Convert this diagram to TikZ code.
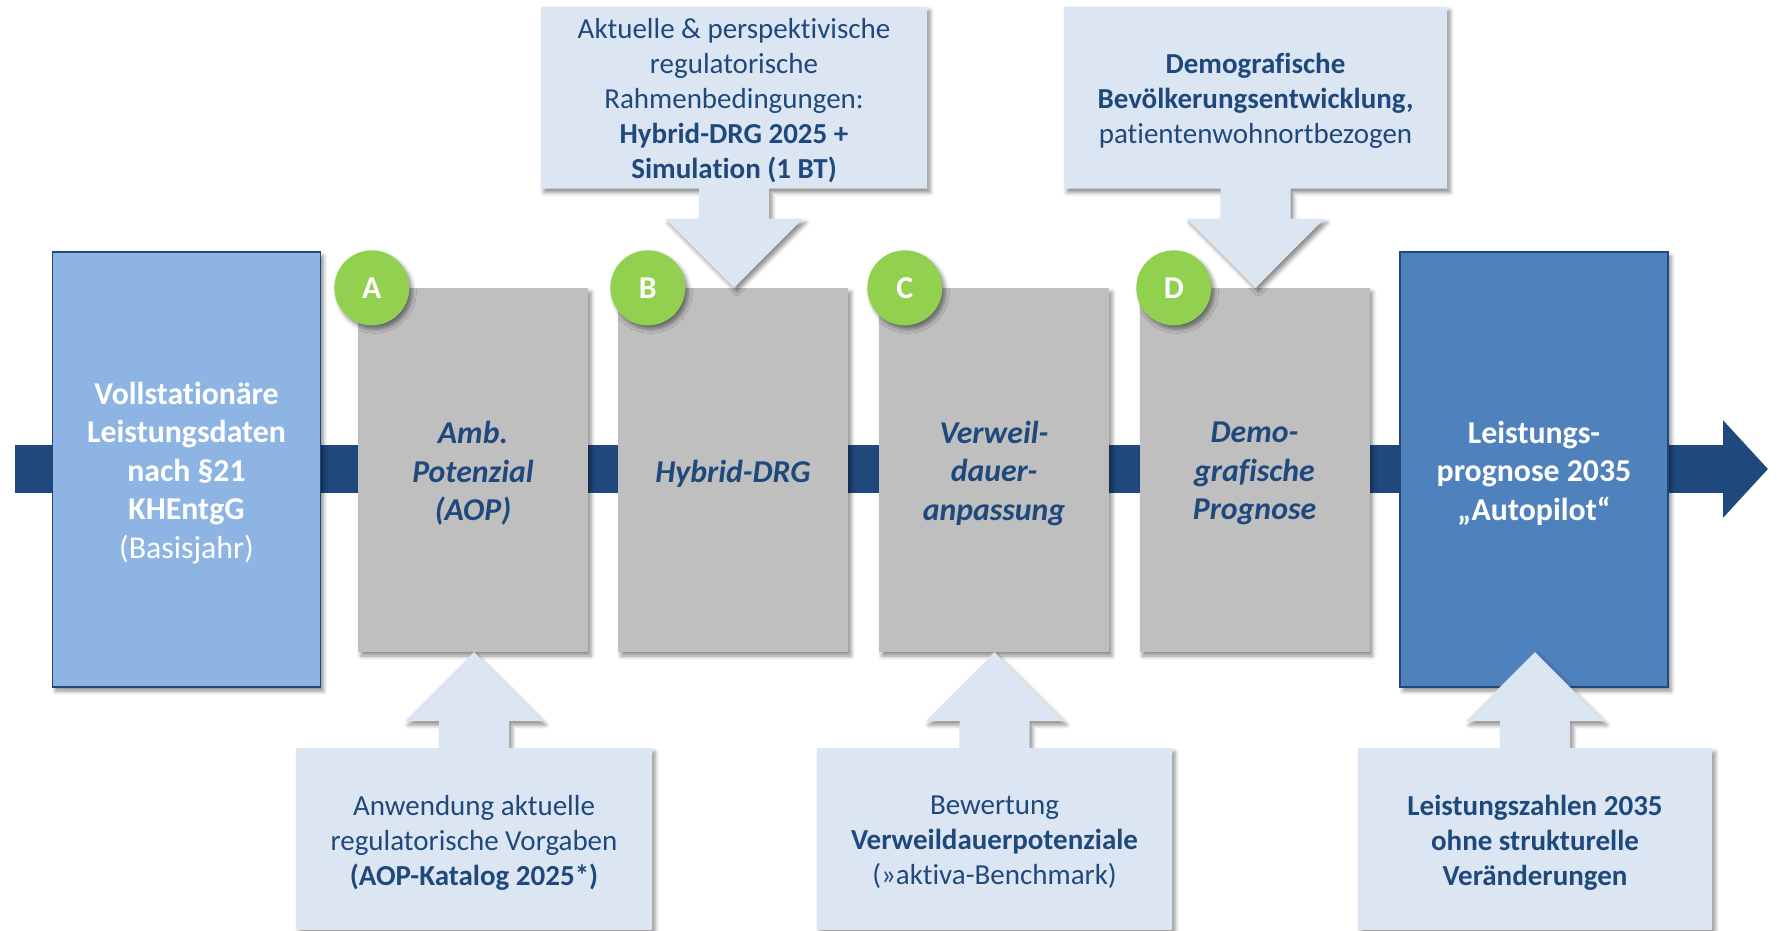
\documentclass[tikz,border=0pt]{standalone}
\usepackage{fontspec}
\setmainfont[Ligatures=CommonOff]{Carlito}
\usetikzlibrary{calc,arrows.meta,shadows.blur}

\definecolor{navy}{HTML}{1F497D}
\definecolor{srcblue}{HTML}{8EB4E3}
\definecolor{resblue}{HTML}{4F81BD}
\definecolor{stepgrey}{HTML}{BFBFBF}
\definecolor{markgreen}{HTML}{92D050}
\definecolor{notefill}{HTML}{DCE6F2}

\tikzset{
  soft shadow/.style={blur shadow={shadow xshift=3pt, shadow yshift=-4pt,
      shadow blur radius=4pt, shadow opacity=45}},
  bigfont/.style={font=\fontsize{31.8}{38.5}\selectfont\bfseries},
  flow/.style={draw=navy, line width=48pt,
      -{Triangle[length=45pt,width=95pt]}},
  endbox/.style={rectangle, draw=navy, line width=1.8pt, inner sep=0pt,
      minimum width=268pt, minimum height=435pt, soft shadow},
  stepbox/.style={rectangle, fill=stepgrey, inner sep=0pt,
      minimum width=230pt, minimum height=364pt, soft shadow},
  endtext/.style={align=center, text=white, inner sep=0pt, bigfont},
  steptext/.style={align=center, text=navy, inner sep=0pt,
      font=\fontsize{31.8}{38.5}\selectfont\bfseries\itshape},
  stepmark/.style={circle, fill=markgreen, minimum size=75pt, inner sep=0pt,
      text=white, bigfont, soft shadow},
  notetext/.style={align=center, text=navy, inner sep=0pt,
      font=\fontsize{29}{35}\selectfont},
  notearrow/.style={fill=notefill, soft shadow},
}

\begin{document}
\begin{tikzpicture}[x=1pt,y=-1pt]
  \useasboundingbox (0,0) rectangle (1777,930);
  \clip (0,0) rectangle (1777,930);

  % main process flow behind the boxes
  \coordinate (flowstart) at (15,469);
  \coordinate (flowend) at (1768,469);
  \draw[flow] (flowstart) -- (flowend);

  % start and end of the process
  \node[endbox, fill=srcblue] (src) at (186.5,469.5) {};
  \node[endbox, fill=resblue] (res) at (1534,469.5) {};
  \node[endtext] (srcT) at ($(src)+(0,3.5)$)
    {Vollstationäre\\Leistungsdaten\\nach §21\\KHEntgG\\\mdseries(Basisjahr)};
  \node[endtext] (resT) at ($(res)+(0,3.5)$)
    {Leistungs-\\prognose 2035\\„Autopilot“};

  % the four processing steps
  \node[stepbox] (stepA) at (473,470) {};
  \node[stepbox] (stepB) at (733,470) {};
  \node[stepbox] (stepC) at (994,470) {};
  \node[stepbox] (stepD) at (1254.5,470) {};
  \node[steptext] (stepAT) at ($(stepA)+(0,3.5)$) {Amb.\\Potenzial\\(AOP)};
  \node[steptext] (stepBT) at ($(stepB)+(0,3.5)$) {Hybrid-DRG};
  \node[steptext] (stepCT) at ($(stepC)+(0,3.5)$) {Verweil-\\dauer-\\anpassung};
  \node[steptext] (stepDT) at ($(stepD)+(0,3.5)$) {Demo-\\grafische\\Prognose};

  \node[stepmark] (markA) at ($(stepA.north west)+(14,0)$) {A};
  \node[stepmark] (markB) at ($(stepB.north west)+(30,0)$) {B};
  \node[stepmark] (markC) at ($(stepC.north west)+(26,0)$) {C};
  \node[stepmark] (markD) at ($(stepD.north west)+(34.5,0)$) {D};

  % input notes: centre, half width, half height 91
  \coordinate (noteB) at (734,97.5);
  \coordinate (noteD) at (1255.5,97.5);
  \coordinate (noteA) at (474,839);
  \coordinate (noteC) at (994.5,839);
  \coordinate (noteR) at (1535,839);

  % downward callouts: box with arrow onto a step
  \foreach \n/\s/\w in {noteB/stepB/193, noteD/stepD/191.5}{
    \path[notearrow]
      ($(\n)+(-\w,-91)$) -- ($(\n)+(\w,-91)$) -- ($(\n)+(\w,91)$)
      -- ($(\n)+(35,91)$) -- ($(\n)+(35,121)$)
      -- ($(\n)+(69,121)$) -- (\n |- \s.north)
      -- ($(\n)+(-69,121)$) -- ($(\n)+(-35,121)$)
      -- ($(\n)+(-35,91)$) -- ($(\n)+(-\w,91)$) -- cycle;
  }
  % upward callouts: box with arrow under a step
  \foreach \n/\s/\w in {noteA/stepA/178, noteC/stepC/177.5, noteR/stepD/177}{
    \path[notearrow]
      ($(\n)+(-\w,91)$) -- ($(\n)+(-\w,-91)$)
      -- ($(\n)+(-35,-91)$) -- ($(\n)+(-35,-118)$)
      -- ($(\n)+(-69,-118)$) -- (\n |- \s.south)
      -- ($(\n)+(69,-118)$) -- ($(\n)+(35,-118)$)
      -- ($(\n)+(35,-91)$) -- ($(\n)+(\w,-91)$) -- ($(\n)+(\w,91)$) -- cycle;
  }

  % note texts
  \node[notetext] (noteBT) at ($(noteB)+(0,3.5)$)
    {Aktuelle \& perspektivische\\regulatorische\\Rahmenbedingungen:\\
     \textbf{Hybrid-DRG 2025 +}\\\textbf{Simulation (1 BT)}};
  \node[notetext] (noteDT) at ($(noteD)+(0,3.5)$)
    {\textbf{Demografische}\\\textbf{Bevölkerungsentwicklung,}\\patientenwohnortbezogen};
  \node[notetext] (noteAT) at ($(noteA)+(0,3.5)$)
    {Anwendung aktuelle\\regulatorische Vorgaben\\\textbf{(AOP-Katalog 2025*)}};
  \node[notetext] (noteCT) at ($(noteC)+(0,3.5)$)
    {Bewertung\\\textbf{Verweildauerpotenziale}\\(»aktiva-Benchmark)};
  \node[notetext, font=\fontsize{29}{35}\selectfont\bfseries] (noteRT)
    at ($(noteR)+(0,3.5)$)
    {Leistungszahlen 2035\\ohne strukturelle\\Veränderungen};
\end{tikzpicture}
\end{document}
